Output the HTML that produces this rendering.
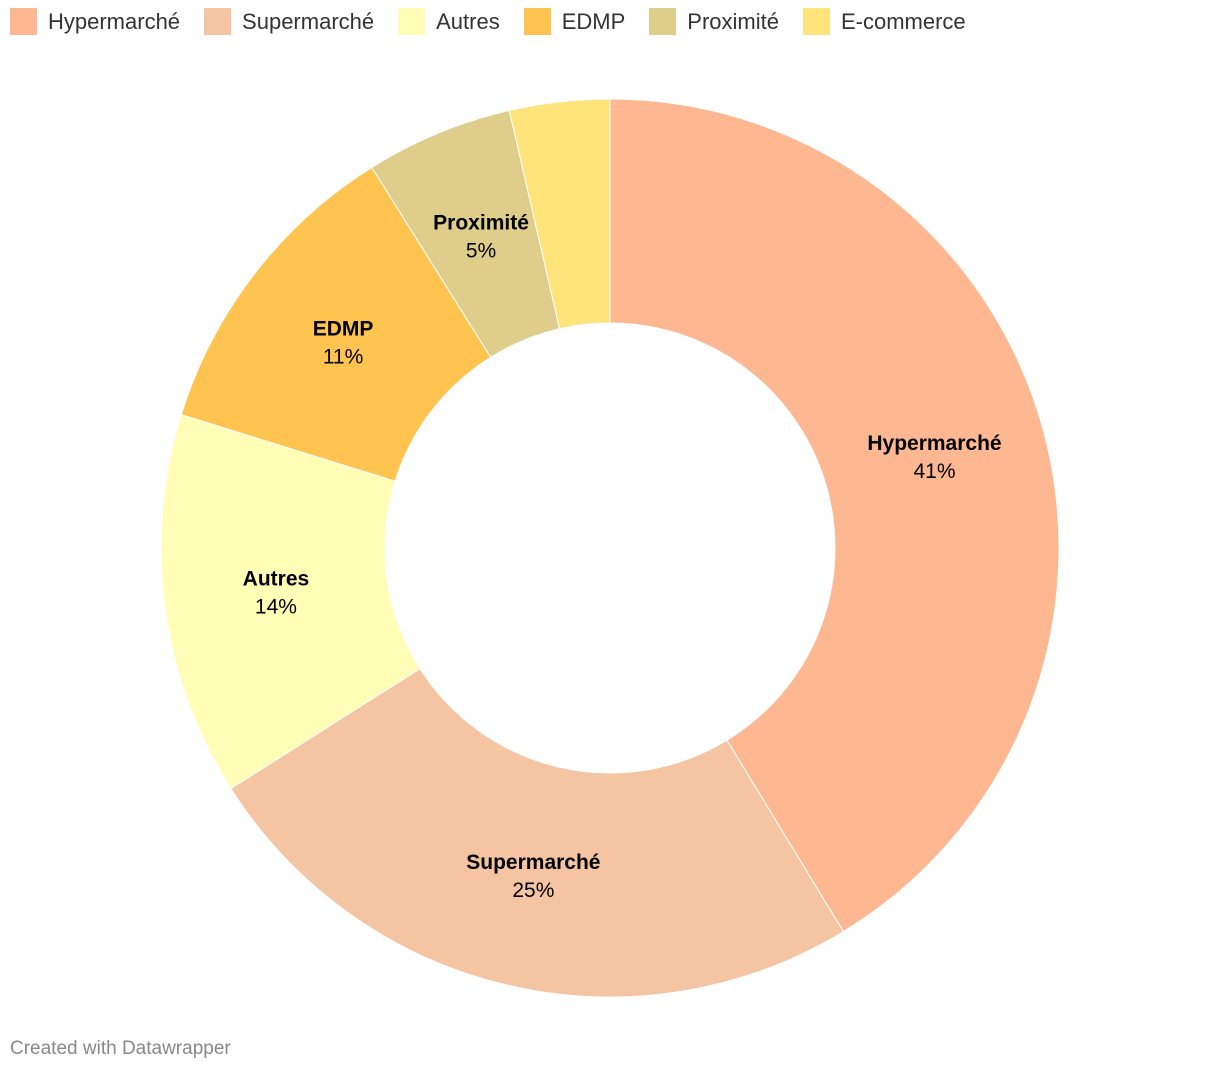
<!DOCTYPE html>
<html><head><meta charset="utf-8"><style>
body{margin:0;background:#fff;font-family:"Liberation Sans",Arial,sans-serif;}
#wrap{position:relative;width:1220px;height:1074px;overflow:hidden;}
.legend{position:absolute;top:8px;left:10px;display:flex;font-size:22px;color:#333;}
.li{display:flex;align-items:center;margin-right:24px;}
.sw{width:27px;height:27px;margin-right:11px;}
.footer{position:absolute;left:10px;top:1038px;font-size:19px;color:#888;}
</style></head><body>
<div id="wrap">
<div class="legend" id="legend"></div>
<svg id="svg" width="1220" height="1074" style="position:absolute;left:0;top:0"></svg>
<div class="footer">Created with Datawrapper</div>
</div>
<script>
const categories=["Hypermarché","Supermarché","Autres","EDMP","Proximité","E-commerce"];
const values=[41.3,24.7,13.8,11.3,5.3,3.6];
const labels=["41%","25%","14%","11%","5%",""];
const colors=["#fdb891","#f5c4a3","#fffdb6","#ffc44f","#dfce8b","#ffe37b"];
const cx=610,cy=548,R=449,r=225;
const NS="http://www.w3.org/2000/svg";
const svg=document.getElementById('svg');
const leg=document.getElementById('legend');
categories.forEach((c,i)=>{
  const d=document.createElement('div');d.className='li';
  
  
  d.innerHTML='<div class="sw" style="background:'+colors[i]+'"></div>'+c;
  leg.appendChild(d);
});
const total=values.reduce((a,b)=>a+b,0);
function pt(a,rad){return [cx+rad*Math.sin(a),cy-rad*Math.cos(a)];}
let acc=0;
values.forEach((v,i)=>{
  const a0=acc/total*2*Math.PI; acc+=v; const a1=acc/total*2*Math.PI;
  const large=(a1-a0)>Math.PI?1:0;
  const [x0,y0]=pt(a0,R),[x1,y1]=pt(a1,R),[x2,y2]=pt(a1,r),[x3,y3]=pt(a0,r);
  const p=document.createElementNS(NS,'path');
  p.setAttribute('d',`M${x0},${y0}A${R},${R} 0 ${large} 1 ${x1},${y1}L${x2},${y2}A${r},${r} 0 ${large} 0 ${x3},${y3}Z`);
  p.setAttribute('fill',colors[i]);p.setAttribute('stroke','#fff');p.setAttribute('stroke-width','1');
  
  
  svg.appendChild(p);
  if(labels[i]){
    const am=(a0+a1)/2; const [lx,ly]=pt(am,(R+r)/2);
    const t=document.createElementNS(NS,'text');
    t.setAttribute('x',lx);t.setAttribute('y',ly-7);t.setAttribute('text-anchor','middle');
    t.setAttribute('font-size','21');t.setAttribute('font-weight','bold');t.setAttribute('fill','#000');
    t.textContent=categories[i];
    
    
    svg.appendChild(t);
    const t2=document.createElementNS(NS,'text');
    t2.setAttribute('x',lx);t2.setAttribute('y',ly+21);t2.setAttribute('text-anchor','middle');
    t2.setAttribute('font-size','21');t2.setAttribute('fill','#000');
    t2.textContent=labels[i];
    
    
    svg.appendChild(t2);
  }
});
</script>
</body></html>
